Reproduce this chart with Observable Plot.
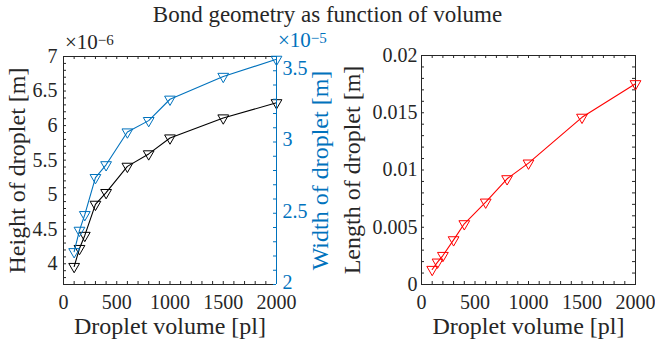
<!DOCTYPE html>
<html>
<head>
<meta charset="utf-8">
<script src="https://cdn.jsdelivr.net/npm/d3@7"></script>
<script src="https://cdn.jsdelivr.net/npm/@observablehq/plot@0.6"></script>
<style>
  html, body { margin: 0; padding: 0; background: #fff; }
  #root { position: relative; width: 655px; height: 341px; overflow: hidden; font-family: "Liberation Serif", "DejaVu Serif", "Times New Roman", Times, serif; color: #262626; }
  #root svg { position: absolute; top: 0; }
  .lbl { position: absolute; white-space: nowrap; }
  .lbl sup { font-size: 15px; position: relative; top: -4px; vertical-align: baseline; }
</style>
</head>
<body>
<div id="root"></div>
<script>
// ---- data ----
const volume = [100, 150, 200, 300, 400, 600, 800, 1000, 1500, 2000];          // pl
const heightM = [3.96e-6, 4.22e-6, 4.41e-6, 4.86e-6, 5.03e-6, 5.41e-6, 5.59e-6, 5.82e-6, 6.11e-6, 6.33e-6];
const widthM  = [2.23e-5, 2.38e-5, 2.49e-5, 2.75e-5, 2.84e-5, 3.07e-5, 3.15e-5, 3.30e-5, 3.46e-5, 3.58e-5];
const lengthM = [0.00131, 0.00195, 0.00253, 0.0039, 0.0053, 0.00719, 0.00923, 0.0106, 0.0146, 0.01753];

const xTicks = [0, 500, 1000, 1500, 2000];
const heightTicks = [4, 4.5, 5, 5.5, 6, 6.5, 7];
const widthTicks = [2, 2.5, 3, 3.5];
const lengthTicks = [0, 0.005, 0.01, 0.015, 0.02];

const title = "Bond geometry as function of volume";
const xLabel = "Droplet volume [pl]";
const heightLabel = "Height of droplet [m]";
const widthLabel = "Width of droplet [m]";
const lengthLabel = "Length of droplet [m]";

// ---- styling ----
const FONT = "'Liberation Serif', 'DejaVu Serif', 'Times New Roman', Times, serif";
const INK = "#262626";
const BLUE = "#0072BD";
const RED = "#FF0000";
const TL = 3; // tick length (px)
const TICK_FS = 20;
const LABEL_FS = 24;

const heightData = volume.map((v, i) => ({v, y: heightM[i] * 1e6}));
const widthData = volume.map((v, i) => ({v, y: widthM[i] * 1e5}));
const lengthData = volume.map((v, i) => ({v, y: lengthM[i]}));

const xMinor = d3.range(0, 2001, 100);
const root = document.getElementById("root");

function baseStyle() {
  return {fontFamily: FONT, fontSize: TICK_FS + "px", color: INK, background: "transparent", overflow: "visible"};
}

// ---- left plot (height) ----
const L = {width: 340, height: 341, marginLeft: 63, marginRight: 64, marginTop: 56, marginBottom: 57};
const LW = L.width - L.marginLeft - L.marginRight;
const LH = L.height - L.marginTop - L.marginBottom;

const left = Plot.plot({
  ...L,
  style: baseStyle(),
  x: {domain: [0, 2000]},
  y: {domain: [3.7, 7]},
  marks: [
    Plot.tickX(xMinor, {x: d => d, insetTop: LH - TL, stroke: INK}),
    Plot.tickX(xMinor, {x: d => d, insetBottom: LH - TL, stroke: INK}),
    Plot.tickY(d3.range(3.7, 7.001, 0.1).map(d => +d.toFixed(1)), {y: d => d, insetRight: LW - TL, stroke: INK}),
    Plot.ruleX([0], {stroke: INK}),
    Plot.ruleY([3.7], {stroke: INK}),
    Plot.ruleY([7], {stroke: INK}),
    Plot.axisX(xTicks, {tickSize: 0, tickPadding: 10, label: null, fontSize: TICK_FS, tickFormat: d => String(d)}),
    Plot.axisY(heightTicks, {tickSize: 0, tickPadding: 6, label: null, fontSize: TICK_FS, tickFormat: d => String(d)}),
    Plot.text([xLabel], {text: d => d, frameAnchor: "bottom", dy: 42, lineAnchor: "middle", textAnchor: "middle", fontSize: LABEL_FS, fill: INK}),
    Plot.text([heightLabel], {text: d => d, frameAnchor: "left", dx: -46, rotate: -90, lineAnchor: "middle", textAnchor: "middle", fontSize: LABEL_FS, fill: INK}),
    Plot.line(heightData, {x: "v", y: "y", stroke: "black", strokeWidth: 1.1}),
    Plot.dot(heightData, {x: "v", y: "y", symbol: "triangle", rotate: 180, r: 4, stroke: "black", fill: "none", strokeWidth: 1})
  ]
});
left.style.left = "0px";
root.appendChild(left);

// ---- left plot overlay (width, right axis) ----
const leftB = Plot.plot({
  ...L,
  style: baseStyle(),
  x: {domain: [0, 2000], axis: null},
  y: {domain: [2, 3.6]},
  marks: [
    Plot.tickY(d3.range(2, 3.601, 0.1).map(d => +d.toFixed(1)), {y: d => d, insetLeft: LW - TL, stroke: BLUE}),
    Plot.ruleX([2000], {stroke: BLUE}),
    Plot.axisY(widthTicks, {anchor: "right", tickSize: 0, tickPadding: 6, dy: -2, label: null, fontSize: TICK_FS, fill: BLUE, tickFormat: d => String(d)}),
    Plot.text([widthLabel], {text: d => d, frameAnchor: "right", dx: 44, rotate: -90, lineAnchor: "middle", textAnchor: "middle", fontSize: LABEL_FS, fill: BLUE}),
    Plot.line(widthData, {x: "v", y: "y", stroke: BLUE, strokeWidth: 1.1}),
    Plot.dot(widthData, {x: "v", y: "y", symbol: "triangle", rotate: 180, r: 4, stroke: BLUE, fill: "none", strokeWidth: 1})
  ]
});
leftB.style.left = "0px";
root.appendChild(leftB);

// ---- right plot (length) ----
const R = {width: 315, height: 341, marginLeft: 81, marginRight: 20, marginTop: 55, marginBottom: 57};
const RW = R.width - R.marginLeft - R.marginRight;
const RH = R.height - R.marginTop - R.marginBottom;
const rMinor = d3.range(0, 0.02001, 0.001).map(d => +d.toFixed(3));

const right = Plot.plot({
  ...R,
  style: baseStyle(),
  x: {domain: [0, 2000]},
  y: {domain: [0, 0.02]},
  marks: [
    Plot.tickX(xMinor, {x: d => d, insetTop: RH - TL, stroke: INK}),
    Plot.tickX(xMinor, {x: d => d, insetBottom: RH - TL, stroke: INK}),
    Plot.tickY(rMinor, {y: d => d, insetRight: RW - TL, stroke: INK}),
    Plot.tickY(rMinor, {y: d => d, insetLeft: RW - TL, stroke: INK}),
    Plot.frame({stroke: INK}),
    Plot.axisX(xTicks, {tickSize: 0, tickPadding: 10, label: null, fontSize: TICK_FS, tickFormat: d => String(d)}),
    Plot.axisY(lengthTicks, {tickSize: 0, tickPadding: 4, label: null, fontSize: TICK_FS, tickFormat: d => String(d)}),
    Plot.text([xLabel], {text: d => d, frameAnchor: "bottom", dy: 42, lineAnchor: "middle", textAnchor: "middle", fontSize: LABEL_FS, fill: INK}),
    Plot.text([lengthLabel], {text: d => d, frameAnchor: "left", dx: -69, rotate: -90, lineAnchor: "middle", textAnchor: "middle", fontSize: LABEL_FS, fill: INK}),
    Plot.line(lengthData, {x: "v", y: "y", stroke: RED, strokeWidth: 1.1}),
    Plot.dot(lengthData, {x: "v", y: "y", symbol: "triangle", rotate: 180, r: 4, stroke: RED, fill: "none", strokeWidth: 1})
  ]
});
right.style.left = "340px";
root.appendChild(right);

// ---- HTML labels ----
function addLabel(html, styles) {
  const d = document.createElement("div");
  d.className = "lbl";
  d.innerHTML = html;
  Object.assign(d.style, styles);
  root.appendChild(d);
  return d;
}
addLabel(title, {left: "0px", width: "655px", textAlign: "center", top: "3px", fontSize: "23px", lineHeight: "24px"});
addLabel("×10<sup>−6</sup>", {left: "65px", top: "32px", fontSize: "21px", lineHeight: "20px"});
addLabel("×10<sup>−5</sup>", {left: "278px", top: "30px", fontSize: "21px", lineHeight: "20px", color: BLUE});
</script>
</body>
</html>
